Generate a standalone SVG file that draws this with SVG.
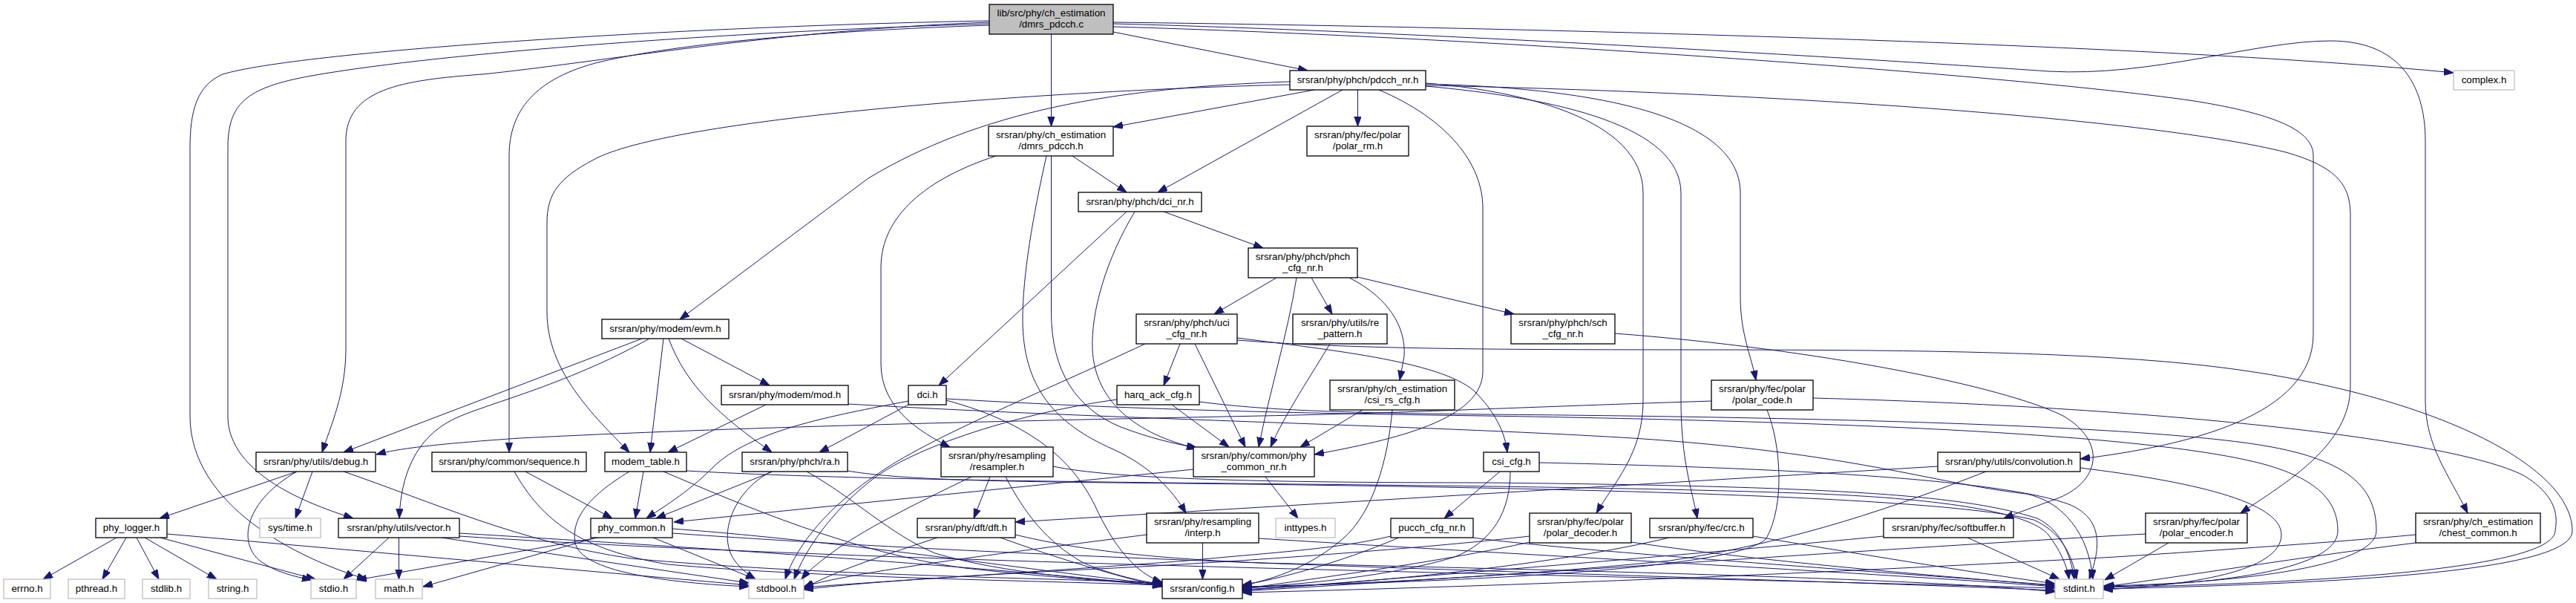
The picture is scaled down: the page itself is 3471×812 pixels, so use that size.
<svg xmlns="http://www.w3.org/2000/svg" width="3471" height="812" viewBox="0 0 3471 812">
<defs>
<marker id="a" markerWidth="13" markerHeight="10" refX="13" refY="4.7" orient="auto" markerUnits="userSpaceOnUse"><path d="M0,0 L13,4.7 L0,9.4 z" fill="#191970" stroke="#191970" stroke-width="1"/></marker>
<style>
.n rect{fill:#ffffff;stroke:#000000;stroke-width:1.3}
.g rect{fill:#ffffff;stroke:#bfbfbf;stroke-width:1.3}
.r rect{fill:#bfbfbf;stroke:#000000;stroke-width:1.3}
text{font-family:"Liberation Sans",Arial,sans-serif;font-size:13.33px;text-anchor:middle;fill:#000000}
#edges path{fill:none;stroke:#191970;stroke-width:1;marker-end:url(#a)}
</style>
</defs>
<rect x="0" y="0" width="3471" height="812" fill="#ffffff"/>
<g id="edges">
<path d="M1416.5,46 L1416.5,170"/>
<path d="M1500,43 L1762,95"/>
<path d="M1500,30 C2000,36 2900,58 3306,98"/>
<path d="M1500,32 C1900,42 2500,78 2760,96 C2900,104 3040,55 3140,55 C3230,55 3268,110 3268,190 L3268,540 C3268,600 3300,640 3325,691"/>
<path d="M1500,36 C2000,50 2700,100 2950,135 C3080,155 3117,180 3117,210 L3117,450 C3117,560 2950,600 2803,618"/>
<path d="M1333,30 C1050,40 800,85 650,100 C540,108 466,120 466,190 L466,470 C466,530 445,575 434,609"/>
<path d="M1333,32 C1000,42 600,70 420,102 C330,118 307,140 307,200 L307,560 C307,640 420,680 476,698"/>
<path d="M1333,28 C900,36 400,70 300,100 C265,115 256,150 256,200 L256,560 C256,680 400,752 494,780"/>
<path d="M1333,34 C1100,42 920,58 810,83 C720,105 686,150 686,210 L686,609"/>
<path d="M1771,121 L1500,171"/>
<path d="M1809,121 L1560,259"/>
<path d="M1829.5,121 L1829.5,170"/>
<path d="M1738,110 C1500,118 1320,150 1170,240 L916,430"/>
<path d="M1738,114 C1400,122 900,160 800,215 C752,240 737,262 737,300 L737,420 C737,500 800,560 848,609"/>
<path d="M1858,121 C1950,160 1998,220 1998,280 L1998,500 C1998,565 1880,592 1771,612"/>
<path d="M1921,112 C2050,122 2214,160 2214,260 L2214,540 C2214,610 2175,650 2151,691"/>
<path d="M1921,116 C2100,132 2265,170 2265,260 L2265,540 C2265,620 2280,660 2287,698"/>
<path d="M1921,113 C2200,120 2345,170 2345,260 L2345,400 C2345,450 2360,480 2366,512"/>
<path d="M1921,115 C2400,125 2900,160 3080,205 C3150,225 3167,250 3167,290 L3167,520 C3167,600 3080,650 3019,691"/>
<path d="M1445,210 L1518,259"/>
<path d="M1342,210 C1250,240 1187,290 1187,360 L1187,490 C1187,550 1240,582 1280,602"/>
<path d="M1410,210 C1392,290 1378,370 1378,430 C1378,520 1420,570 1500,605 C1550,628 1580,660 1598,691"/>
<path d="M1416.5,210 L1416.5,420 C1416.5,500 1450,550 1510,575 C1550,590 1580,597 1612,603"/>
<path d="M1518,285 L1265,519"/>
<path d="M1529,285 C1490,350 1470,420 1472,470 C1475,540 1530,585 1614,604"/>
<path d="M1568,285 L1702,334"/>
<path d="M1720,374 L1636,423"/>
<path d="M1747,374 C1735,450 1710,530 1696,602"/>
<path d="M1767,374 L1795,423"/>
<path d="M1818,374 C1870,400 1895,440 1892,480 L1886,512"/>
<path d="M1829,373 L2040,423"/>
<path d="M1590,463 L1568,519"/>
<path d="M1610,463 L1678,602"/>
<path d="M1667,455 C1800,472 1950,488 1990,530 C2018,560 2028,585 2031,609"/>
<path d="M1543,463 C1400,530 1250,590 1180,640 C1120,680 1075,730 1058,780"/>
<path d="M1667,458 C2000,485 2600,455 2950,490 C3250,520 3466,620 3466,715 C3466,770 3150,786 2834,793"/>
<path d="M1579,545 L1656,602"/>
<path d="M1505,538 C1380,555 1230,600 1170,650 C1120,690 1085,740 1070,780"/>
<path d="M1616,541 C1700,552 1800,556 2000,558 C2500,562 2900,575 3050,600 C3170,620 3202,660 3202,715 C3202,765 3000,786 2834,789"/>
<path d="M1792,463 C1770,500 1730,560 1712,602"/>
<path d="M2176,449 C2450,470 2700,520 2780,560 C2840,595 2830,650 2770,672 C2740,683 2720,690 2700,698"/>
<path d="M865,456 L463,609"/>
<path d="M875,456 C760,520 650,545 610,565 C560,590 540,640 538,698"/>
<path d="M894,456 L876,609"/>
<path d="M901,456 C925,520 970,560 1040,609"/>
<path d="M918,456 L1037,519"/>
<path d="M1032,545 L900,609"/>
<path d="M1143,544 C1500,565 1900,572 2200,590 C2500,610 2600,650 2730,665 C2780,675 2815,720 2820,780"/>
<path d="M1224,545 L1104,609"/>
<path d="M1224,540 C1120,560 1010,580 960,630 C925,665 890,685 871,698"/>
<path d="M1275,539 C1390,570 1445,620 1475,680 C1500,735 1530,772 1566,784"/>
<path d="M1275,537 C1500,550 1700,556 2000,560 C2500,568 2900,585 3050,625 C3130,647 3150,680 3150,715 C3150,765 3000,787 2834,790"/>
<path d="M2306,540 C2000,550 1900,556 1700,560 C1300,568 1000,575 700,590 C600,597 540,603 507,612"/>
<path d="M2381,552 C2400,600 2405,680 2380,725 C2340,770 1900,785 1674,790"/>
<path d="M2443,536 C2900,548 3300,590 3400,640 C3450,670 3445,700 3443,715 C3440,768 3100,786 2834,791"/>
<path d="M400,635 L215,698"/>
<path d="M400,635 C330,675 320,730 350,755 C370,770 395,776 420,781"/>
<path d="M421,635 L398,698"/>
<path d="M463,635 C580,675 700,730 850,752 C1100,775 1400,778 1566,785"/>
<path d="M708,635 L825,698"/>
<path d="M693,635 C730,700 780,740 900,760 C1100,778 1400,782 1566,788"/>
<path d="M867,635 L856,698"/>
<path d="M848,635 C790,670 770,700 775,730 C780,770 900,785 1009,790"/>
<path d="M894,635 C1000,680 1150,745 1300,765 C1420,778 1500,783 1566,788"/>
<path d="M925,634 C1300,655 2000,648 2450,665 C2620,672 2735,690 2760,720 C2775,740 2785,760 2788,780"/>
<path d="M1041,635 L884,698"/>
<path d="M1039,635 C990,660 965,720 990,755 C1000,768 1010,775 1018,780"/>
<path d="M1087,635 C1150,670 1200,720 1260,745 C1350,772 1480,782 1566,786"/>
<path d="M1142,634 C1200,644 1300,648 1500,650 C2000,655 2600,665 2740,700 C2775,715 2792,745 2798,780"/>
<path d="M1334,642 L1312,698"/>
<path d="M1309,642 C1230,680 1160,715 1120,745 C1100,760 1088,770 1080,780"/>
<path d="M1355,642 C1380,690 1410,730 1460,758 C1500,775 1540,783 1566,787"/>
<path d="M1419,628 C1500,645 1700,650 2000,650 C2500,655 2650,668 2745,698 C2775,712 2790,745 2795,780"/>
<path d="M1608,632 L908,703"/>
<path d="M1705,642 L1749,698"/>
<path d="M1836,552 L1752,602"/>
<path d="M1876,552 C1870,620 1850,690 1810,725 C1770,760 1720,780 1674,788"/>
<path d="M2021,635 L1946,698"/>
<path d="M2035,635 C2035,690 2010,730 1960,750 C1880,775 1750,788 1674,791"/>
<path d="M2074,623 C2400,630 2700,645 2790,680 C2835,700 2830,740 2815,780"/>
<path d="M2611,628 L1368,703"/>
<path d="M2676,635 C2560,680 2420,730 2250,755 C2000,780 1800,786 1674,792"/>
<path d="M2803,630 C2950,648 3074,675 3074,720 C3074,770 2950,788 2834,794"/>
<path d="M157,724 L58,780"/>
<path d="M170,724 L138,780"/>
<path d="M184,724 L214,780"/>
<path d="M195,724 L292,780"/>
<path d="M216,724 L425,780"/>
<path d="M225,719 L1009,788"/>
<path d="M524,724 L463,780"/>
<path d="M537.5,724 L537.5,780"/>
<path d="M595,724 L1009,785"/>
<path d="M619,718 C900,735 1300,760 1566,789"/>
<path d="M619,722 C1200,760 2200,775 2769,792"/>
<path d="M806,724 L481,781"/>
<path d="M800,725 L570,790"/>
<path d="M880,724 L1018,780"/>
<path d="M906,712 C1150,730 1400,770 1566,787"/>
<path d="M906,718 C1500,760 2300,775 2769,795"/>
<path d="M1263,724 C1200,745 1120,770 1083,793"/>
<path d="M1348,724 C1420,750 1500,775 1566,790"/>
<path d="M1368,720 C1450,740 1550,752 1700,758 C2200,770 2600,780 2769,797"/>
<path d="M1545,720 C1350,745 1150,770 1083,790"/>
<path d="M1620.5,731 L1620.5,780"/>
<path d="M1696,725 C2100,750 2500,770 2769,790"/>
<path d="M1874,722 C1800,740 1700,745 1600,755 C1400,770 1200,782 1083,791"/>
<path d="M1885,724 C1800,760 1720,780 1674,788"/>
<path d="M1985,724 C2100,740 2500,768 2769,788"/>
<path d="M2061,722 C1950,735 1700,755 1500,765 C1300,775 1150,785 1083,794"/>
<path d="M2061,730 C1950,755 1780,778 1674,793"/>
<path d="M2198,730 C2400,760 2650,778 2769,789"/>
<path d="M2249,724 C2100,760 1850,785 1674,794"/>
<path d="M2362,722 C2500,745 2650,770 2769,786"/>
<path d="M2538,722 C2300,745 1900,778 1674,795"/>
<path d="M2651,724 L2775,780"/>
<path d="M2891,719 C2600,735 2100,770 1674,796"/>
<path d="M2922,731 L2836,781"/>
<path d="M3255,720 C3150,730 3000,740 2850,750 C2400,775 2000,790 1674,798"/>
<path d="M3255,731 C3100,750 2950,775 2836,790"/>
</g>
<g id="node1" class="r"><rect x="1333" y="6" width="167" height="40"/><text x="1416.5" y="22">lib/src/phy/ch_estimation</text><text x="1416.5" y="37">/dmrs_pdcch.c</text></g>
<g id="node2" class="n"><rect x="1738" y="95" width="183" height="26"/><text x="1829.5" y="112">srsran/phy/phch/pdcch_nr.h</text></g>
<g id="node3" class="g"><rect x="3306" y="95" width="82" height="26"/><text x="3347" y="112">complex.h</text></g>
<g id="node4" class="n"><rect x="1332" y="170" width="168" height="40"/><text x="1416" y="186">srsran/phy/ch_estimation</text><text x="1416" y="201">/dmrs_pdcch.h</text></g>
<g id="node5" class="n"><rect x="1761" y="170" width="137" height="40"/><text x="1829.5" y="186">srsran/phy/fec/polar</text><text x="1829.5" y="201">/polar_rm.h</text></g>
<g id="node6" class="n"><rect x="1453" y="259" width="166" height="26"/><text x="1536" y="276">srsran/phy/phch/dci_nr.h</text></g>
<g id="node7" class="n"><rect x="1682" y="334" width="147" height="40"/><text x="1755.5" y="350">srsran/phy/phch/phch</text><text x="1755.5" y="365">_cfg_nr.h</text></g>
<g id="node8" class="n"><rect x="1531" y="423" width="136" height="40"/><text x="1599" y="439">srsran/phy/phch/uci</text><text x="1599" y="454">_cfg_nr.h</text></g>
<g id="node9" class="n"><rect x="1742" y="423" width="127" height="40"/><text x="1805.5" y="439">srsran/phy/utils/re</text><text x="1805.5" y="454">_pattern.h</text></g>
<g id="node10" class="n"><rect x="2036" y="423" width="140" height="40"/><text x="2106" y="439">srsran/phy/phch/sch</text><text x="2106" y="454">_cfg_nr.h</text></g>
<g id="node11" class="n"><rect x="811" y="430" width="171" height="26"/><text x="896.5" y="447">srsran/phy/modem/evm.h</text></g>
<g id="node12" class="n"><rect x="972" y="519" width="171" height="26"/><text x="1057.5" y="536">srsran/phy/modem/mod.h</text></g>
<g id="node13" class="n"><rect x="1224" y="519" width="51" height="26"/><text x="1249.5" y="536">dci.h</text></g>
<g id="node14" class="n"><rect x="1505" y="519" width="111" height="26"/><text x="1560.5" y="536">harq_ack_cfg.h</text></g>
<g id="node15" class="n"><rect x="1792" y="512" width="168" height="40"/><text x="1876" y="528">srsran/phy/ch_estimation</text><text x="1876" y="543">/csi_rs_cfg.h</text></g>
<g id="node16" class="n"><rect x="2306" y="512" width="137" height="40"/><text x="2374.5" y="528">srsran/phy/fec/polar</text><text x="2374.5" y="543">/polar_code.h</text></g>
<g id="node17" class="n"><rect x="345" y="609" width="161" height="26"/><text x="425.5" y="626">srsran/phy/utils/debug.h</text></g>
<g id="node18" class="n"><rect x="582" y="609" width="208" height="26"/><text x="686" y="626">srsran/phy/common/sequence.h</text></g>
<g id="node19" class="n"><rect x="815" y="609" width="110" height="26"/><text x="870" y="626">modem_table.h</text></g>
<g id="node20" class="n"><rect x="1000" y="609" width="142" height="26"/><text x="1071" y="626">srsran/phy/phch/ra.h</text></g>
<g id="node21" class="n"><rect x="1268" y="602" width="151" height="40"/><text x="1343.5" y="618">srsran/phy/resampling</text><text x="1343.5" y="633">/resampler.h</text></g>
<g id="node22" class="n"><rect x="1608" y="602" width="163" height="40"/><text x="1689.5" y="618">srsran/phy/common/phy</text><text x="1689.5" y="633">_common_nr.h</text></g>
<g id="node23" class="n"><rect x="1999" y="609" width="75" height="26"/><text x="2036.5" y="626">csi_cfg.h</text></g>
<g id="node24" class="n"><rect x="2611" y="609" width="192" height="26"/><text x="2707" y="626">srsran/phy/utils/convolution.h</text></g>
<g id="node25" class="n"><rect x="129" y="698" width="96" height="26"/><text x="177" y="715">phy_logger.h</text></g>
<g id="node26" class="g"><rect x="350" y="698" width="82" height="26"/><text x="391" y="715">sys/time.h</text></g>
<g id="node27" class="n"><rect x="456" y="698" width="163" height="26"/><text x="537.5" y="715">srsran/phy/utils/vector.h</text></g>
<g id="node28" class="n"><rect x="796" y="698" width="110" height="26"/><text x="851" y="715">phy_common.h</text></g>
<g id="node29" class="n"><rect x="1236" y="698" width="132" height="26"/><text x="1302" y="715">srsran/phy/dft/dft.h</text></g>
<g id="node30" class="n"><rect x="1545" y="691" width="151" height="40"/><text x="1620.5" y="707">srsran/phy/resampling</text><text x="1620.5" y="722">/interp.h</text></g>
<g id="node31" class="g"><rect x="1719" y="698" width="80" height="26"/><text x="1759" y="715">inttypes.h</text></g>
<g id="node32" class="n"><rect x="1874" y="698" width="111" height="26"/><text x="1929.5" y="715">pucch_cfg_nr.h</text></g>
<g id="node33" class="n"><rect x="2061" y="691" width="137" height="40"/><text x="2129.5" y="707">srsran/phy/fec/polar</text><text x="2129.5" y="722">/polar_decoder.h</text></g>
<g id="node34" class="n"><rect x="2223" y="698" width="139" height="26"/><text x="2292.5" y="715">srsran/phy/fec/crc.h</text></g>
<g id="node35" class="n"><rect x="2538" y="698" width="175" height="26"/><text x="2625.5" y="715">srsran/phy/fec/softbuffer.h</text></g>
<g id="node36" class="n"><rect x="2891" y="691" width="137" height="40"/><text x="2959.5" y="707">srsran/phy/fec/polar</text><text x="2959.5" y="722">/polar_encoder.h</text></g>
<g id="node37" class="n"><rect x="3255" y="691" width="168" height="40"/><text x="3339" y="707">srsran/phy/ch_estimation</text><text x="3339" y="722">/chest_common.h</text></g>
<g id="node38" class="g"><rect x="5" y="780" width="63" height="26"/><text x="36.5" y="797">errno.h</text></g>
<g id="node39" class="g"><rect x="92" y="780" width="76" height="26"/><text x="130" y="797">pthread.h</text></g>
<g id="node40" class="g"><rect x="192" y="780" width="64" height="26"/><text x="224" y="797">stdlib.h</text></g>
<g id="node41" class="g"><rect x="281" y="780" width="65" height="26"/><text x="313.5" y="797">string.h</text></g>
<g id="node42" class="g"><rect x="419" y="780" width="61" height="26"/><text x="449.5" y="797">stdio.h</text></g>
<g id="node43" class="g"><rect x="506" y="780" width="63" height="26"/><text x="537.5" y="797">math.h</text></g>
<g id="node44" class="g"><rect x="1009" y="780" width="74" height="26"/><text x="1046" y="797">stdbool.h</text></g>
<g id="node45" class="n"><rect x="1566" y="780" width="108" height="26"/><text x="1620" y="797">srsran/config.h</text></g>
<g id="node46" class="g"><rect x="2769" y="780" width="65" height="26"/><text x="2801.5" y="797">stdint.h</text></g>
</svg>
